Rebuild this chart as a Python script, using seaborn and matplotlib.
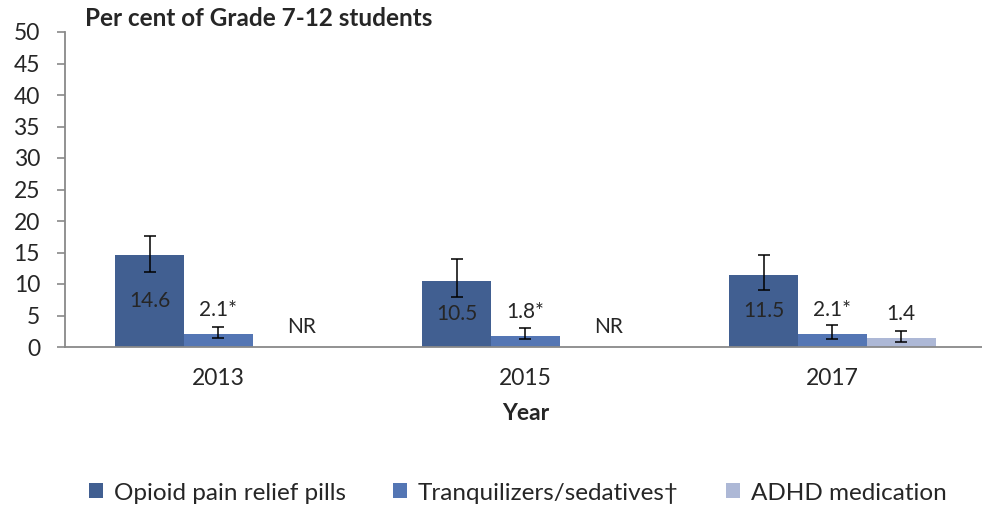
import numpy as np
import pandas as pd
import seaborn as sns
import matplotlib.pyplot as plt
from matplotlib.ticker import FixedLocator

# values
years = ['2013', '2015', '2017']
series = ['Opioid pain relief pills', 'Tranquilizers/sedatives\u2020', 'ADHD medication']
opioid = [14.6, 10.5, 11.5]
tranq = [2.1, 1.8, 2.1]
adhd = [np.nan, np.nan, 1.4]
opioid_lo = [11.9, 8.0, 9.0]
opioid_hi = [17.6, 14.0, 14.6]
tranq_lo = [1.5, 1.2, 1.3]
tranq_hi = [3.1, 3.0, 3.5]
adhd_lo = [np.nan, np.nan, 0.8]
adhd_hi = [np.nan, np.nan, 2.6]
tranq_labels = ['2.1*', '1.8*', '2.1*']
colors = ['#345C9E', '#4472C4', '#A6B5DD']

sns.set_style('white')
plt.rcParams['font.family'] = ['Lato', 'DejaVu Sans']

df = pd.DataFrame({
    'Year': years * 3,
    'Series': [s for s in series for _ in years],
    'Value': opioid + tranq + adhd,
})

fig = plt.figure(figsize=(9.82, 5.08), dpi=100)
ax = fig.add_axes([65 / 982, 161 / 508, 921 / 982, 315 / 508])

sns.barplot(data=df, x='Year', y='Value', hue='Series', order=years,
            hue_order=series, palette=colors, width=0.672, errorbar=None,
            linewidth=0, ax=ax)

leg = ax.get_legend()
handles = leg.legend_handles
labels = [t.get_text() for t in leg.get_texts()]
leg.remove()

bar_conts = list(ax.containers)
vals_all = [opioid, tranq, adhd]
lows = [opioid_lo, tranq_lo, adhd_lo]
highs = [opioid_hi, tranq_hi, adhd_hi]
for i, cont in enumerate(bar_conts):
    for b in cont:
        if b is None or np.isnan(b.get_height()):
            continue
        xc = b.get_x() + b.get_width() / 2
        k = int(round(xc))
        v = vals_all[i][k]
        ax.errorbar(xc, v, yerr=[[v - lows[i][k]], [highs[i][k] - v]],
                    fmt='none', ecolor='black', elinewidth=1.1, capsize=4.3,
                    capthick=1.1)
        if i == 0:
            ax.text(xc, v / 2, f'{v:.1f}', ha='center', va='center', fontsize=15)
        else:
            txt = tranq_labels[k] if i == 1 else f'{v:.1f}'
            ax.annotate(txt, (xc, v), xytext=(0, 24), textcoords='offset pixels',
                        ha='center', va='center', fontsize=15)

# NR where ADHD medication was not reported
tr = [b for b in bar_conts[1] if b is not None]
for k, v in enumerate(adhd):
    if np.isnan(v):
        b = tr[k]
        x = b.get_x() + 1.5 * b.get_width()
        ax.text(x, 3.2, 'NR', ha='left', va='center', fontsize=15)

ax.set_xlim(-0.5, 2.5)
ax.set_ylim(0, 50)
ax.set_yticks(range(0, 51, 5))
ax.xaxis.set_minor_locator(FixedLocator([-0.5, 0.5, 1.5, 2.5]))
ax.tick_params(axis='x', which='major', length=0, pad=15, labelsize=16.5)
ax.tick_params(axis='x', which='minor', length=5.5, width=1.2, color='#898989')
ax.tick_params(axis='y', length=6, width=1.2, color='#898989', pad=12,
               labelsize=16.5, left=True)
ax.set_xlabel('Year', fontsize=16.5, fontweight='bold', labelpad=10)
ax.set_ylabel('')
for s in ['top', 'right']:
    ax.spines[s].set_visible(False)
for s in ['left', 'bottom']:
    ax.spines[s].set_color('#898989')
    ax.spines[s].set_linewidth(1.3)

fig.text(85 / 982, 1 - 18 / 508, 'Per cent of Grade 7-12 students',
         fontsize=17.5, fontweight='bold', va='center', ha='left')

fig.legend(handles, labels, loc='center', bbox_to_anchor=(0.527, 1 - 493 / 508),
           ncol=3, frameon=False, fontsize=17.5, handlelength=0.58,
           handleheight=0.58, handletextpad=0.45, columnspacing=1.93)

fig.savefig('out.png', dpi=100)
